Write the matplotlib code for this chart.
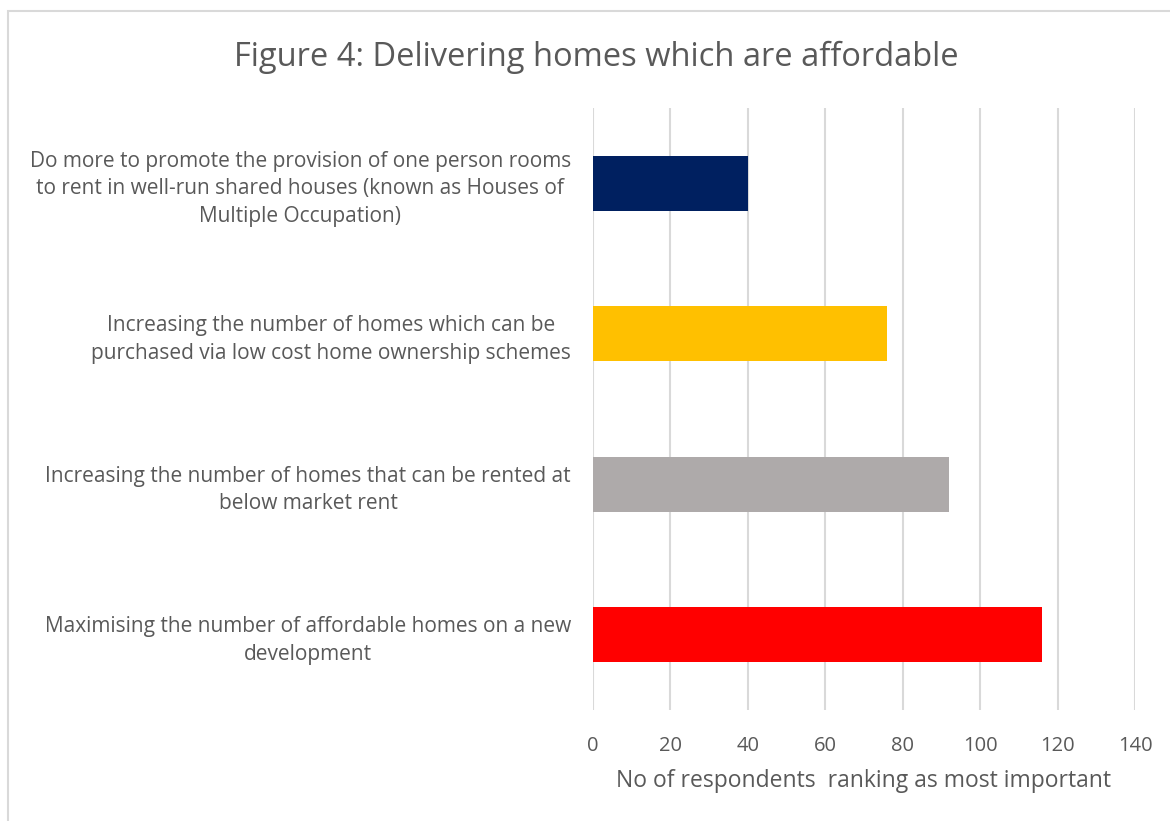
import matplotlib.pyplot as plt
from matplotlib.patches import Rectangle

# data
categories = [
    "Do more to promote the provision of one person rooms\nto rent in well-run shared houses (known as Houses of\nMultiple Occupation)",
    "Increasing the number of homes which can be\npurchased via low cost home ownership schemes",
    "Increasing the number of homes that can be rented at\nbelow market rent",
    "Maximising the number of affordable homes on a new\ndevelopment",
]
values = [40, 76, 92, 116]
colors = ["#002060", "#FFC000", "#AEAAAA", "#FF0000"]
xticks = [0, 20, 40, 60, 80, 100, 120, 140]

plt.rcParams['font.family'] = ['Open Sans', 'DejaVu Sans']
txt = "#595959"

fig = plt.figure(figsize=(11.7, 8.21), dpi=100)
ax = fig.add_axes([593 / 1170, 1 - 710 / 821, 542 / 1170, 602 / 821])

# outer chart border
fig.patches.append(Rectangle((8 / 1170, -0.1), 1.2, 1 - 11 / 821 + 0.1,
                             transform=fig.transFigure, fill=False,
                             edgecolor="#D9D9D9", linewidth=1.5))

ypos = list(range(len(categories)))
ax.barh(ypos, values, height=0.365, color=colors, zorder=3)
ax.set_ylim(len(categories) - 0.5, -0.5)
ax.set_xlim(0, 140)
ax.set_xticks(xticks)
ax.set_yticks(ypos)
ax.set_yticklabels(categories, multialignment="center", fontsize=15, color=txt,
                   linespacing=1.4)
ax.tick_params(axis="x", labelsize=14.5, colors=txt, length=0, pad=19)
ax.tick_params(axis="y", length=0, pad=16)
ax.grid(axis="x", color="#D9D9D9", linewidth=1.5, zorder=0)
for s in ax.spines.values():
    s.set_visible(False)

ax.set_xlabel("No of respondents  ranking as most important", fontsize=16.5,
              color=txt, labelpad=9)
fig.text(596 / 1170, 1 - 57 / 821, "Figure 4: Delivering homes which are affordable",
         ha="center", va="center", fontsize=23.5, color=txt)

fig.savefig("out.png", dpi=100)
